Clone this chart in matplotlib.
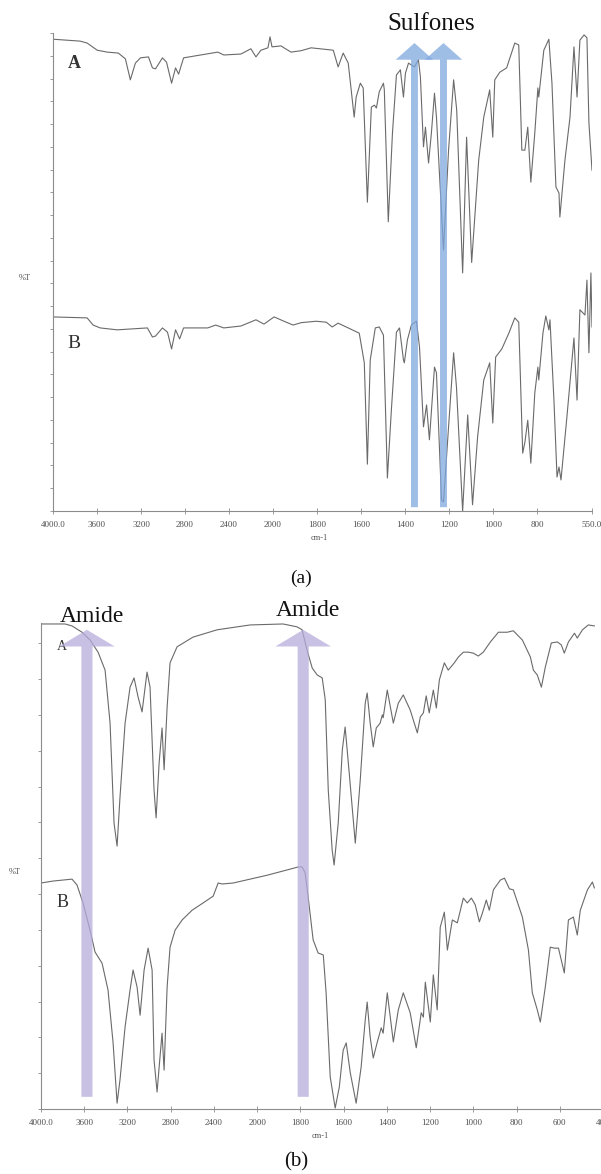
import numpy as np
import matplotlib.pyplot as plt

# ===============================
# DATA
# ===============================
# panel (a): wavenumber (cm-1) / %T, trace A (top) and B (bottom)
wn_a_A = [4000, 3753, 3690, 3598, 3507, 3406, 3342, 3297, 3251, 3205,
          3132, 3096, 3068, 3005, 2968, 2922, 2886, 2858, 2813, 2658,
          2502, 2447, 2292, 2201, 2155, 2110, 2046, 2027, 2009, 1964,
          1918, 1872, 1827, 1726, 1704, 1681, 1658, 1631, 1622, 1603,
          1590, 1571, 1553, 1539, 1530, 1517, 1498, 1494, 1476, 1457,
          1439, 1421, 1407, 1398, 1384, 1357, 1339, 1330, 1316, 1307,
          1293, 1280, 1266, 1257, 1225, 1202, 1179, 1165, 1138, 1120,
          1097, 1065, 1042, 1015, 1001, 992, 969, 938, 901, 883,
          869, 855, 842, 828, 810, 796, 792, 769, 746, 732,
          714, 700, 696, 673, 650, 632, 618, 605, 586, 573,
          564, 550]
T_a_A = [98.7, 98.3, 97.9, 96.4, 96.0, 95.8, 94.6, 90.2, 93.7, 94.8,
         95.0, 92.7, 92.5, 94.8, 93.9, 89.5, 92.7, 91.4, 94.8, 95.4,
         96.0, 95.4, 95.6, 96.7, 95.0, 96.4, 96.9, 99.2, 97.1, 97.3,
         96.0, 96.3, 96.9, 96.4, 92.9, 95.8, 93.7, 82.4, 86.6, 89.5,
         88.5, 64.6, 84.5, 84.9, 84.3, 87.7, 89.5, 88.1, 60.5, 79.1,
         91.2, 92.3, 86.6, 91.6, 93.7, 92.9, 94.4, 90.8, 76.2, 80.3,
         72.8, 79.1, 87.4, 82.4, 54.6, 75.5, 90.2, 83.9, 49.8, 78.2,
         52.0, 73.4, 82.4, 88.1, 78.2, 90.2, 91.8, 92.7, 97.9, 97.5,
         75.5, 75.5, 80.3, 68.8, 79.1, 88.5, 86.6, 96.4, 98.7, 89.5,
         67.8, 66.5, 61.5, 73.4, 82.4, 97.1, 86.6, 98.5, 99.6, 99.0,
         81.2, 71.3]

wn_a_B = [4000, 3690, 3635, 3571, 3416, 3142, 3096, 3068, 3005, 2959,
          2922, 2886, 2849, 2813, 2594, 2521, 2447, 2292, 2155, 2082,
          1995, 1950, 1909, 1872, 1804, 1758, 1731, 1704, 1658, 1608,
          1585, 1571, 1558, 1535, 1517, 1498, 1480, 1462, 1439, 1425,
          1407, 1403, 1389, 1371, 1348, 1334, 1316, 1302, 1289, 1266,
          1257, 1234, 1225, 1202, 1179, 1166, 1138, 1115, 1093, 1070,
          1042, 1015, 1001, 988, 960, 928, 901, 883, 865, 855,
          842, 828, 810, 796, 792, 773, 760, 746, 741, 723,
          709, 700, 691, 664, 632, 618, 605, 582, 573, 564,
          555, 550]
T_a_B = [40.6, 40.4, 38.9, 38.3, 37.9, 38.3, 36.4, 36.6, 38.3, 37.4,
         33.9, 37.9, 36.0, 38.3, 38.3, 38.9, 38.3, 38.7, 40.0, 39.1,
         40.6, 39.7, 38.9, 39.4, 39.7, 39.5, 38.5, 39.3, 38.3, 37.2,
         31.0, 9.8, 31.6, 38.3, 38.5, 36.8, 6.9, 21.1, 37.4, 38.3,
         31.6, 31.0, 35.8, 38.9, 39.7, 34.3, 17.6, 22.2, 14.9, 30.1,
         28.9, 2.3, 1.9, 17.6, 33.1, 25.9, 0.0, 20.1, 1.3, 15.5,
         27.4, 31.0, 18.4, 32.2, 33.9, 37.2, 40.4, 39.5, 12.1, 14.4,
         19.0, 10.0, 24.7, 30.1, 27.4, 37.2, 40.8, 37.9, 40.0, 23.2,
         7.1, 9.2, 6.5, 19.7, 36.2, 23.2, 42.1, 41.0, 48.3, 33.1,
         49.8, 38.5]

# panel (b)
wn_b_A = [4000, 3778, 3713, 3620, 3546, 3472, 3407, 3361, 3324, 3296,
          3269, 3222, 3176, 3139, 3102, 3065, 3019, 2991, 2954, 2935,
          2907, 2880, 2861, 2833, 2806, 2741, 2593, 2370, 2065, 1880,
          1815, 1792, 1769, 1745, 1722, 1699, 1685, 1671, 1653, 1644,
          1625, 1606, 1593, 1574, 1546, 1523, 1500, 1491, 1477, 1463,
          1449, 1431, 1421, 1417, 1398, 1370, 1347, 1324, 1292, 1259,
          1245, 1231, 1218, 1204, 1185, 1171, 1157, 1134, 1116, 1088,
          1069, 1046, 1023, 1000, 977, 954, 921, 884, 843, 815,
          773, 736, 722, 704, 685, 667, 639, 611, 593, 579,
          560, 532, 519, 495, 468, 440]
T_b_A = [99.8, 99.8, 99.4, 98.1, 96.5, 94.0, 90.3, 79.4, 58.8, 54.1,
         64.2, 79.4, 86.8, 88.7, 84.8, 81.7, 89.9, 86.8, 65.6, 59.9,
         71.2, 78.4, 69.8, 82.7, 91.8, 95.1, 97.1, 98.6, 99.6, 99.8,
         99.2, 98.6, 94.4, 90.7, 89.3, 88.7, 84.2, 65.6, 53.3, 50.2,
         58.8, 73.9, 78.6, 69.1, 54.7, 67.7, 83.5, 85.6, 79.4, 74.5,
         78.4, 79.4, 81.1, 80.5, 86.2, 79.4, 83.5, 85.2, 82.1, 77.4,
         80.7, 81.5, 85.0, 81.5, 86.2, 82.5, 88.3, 91.8, 90.3, 91.8,
         93.0, 94.0, 94.0, 93.8, 93.2, 94.0, 96.1, 98.1, 98.1, 98.4,
         96.5, 93.0, 90.3, 89.3, 86.8, 90.9, 95.9, 96.1, 95.5, 93.8,
         96.1, 97.9, 96.9, 98.6, 99.6, 99.4]

wn_b_B = [4000, 3889, 3713, 3667, 3611, 3546, 3500, 3435, 3380, 3333,
          3296, 3269, 3222, 3176, 3148, 3111, 3083, 3046, 3009, 2972,
          2954, 2926, 2907, 2880, 2861, 2833, 2806, 2759, 2694, 2602,
          2500, 2407, 2361, 2324, 2222, 1954, 1810, 1792, 1778, 1764,
          1741, 1718, 1694, 1681, 1662, 1639, 1620, 1602, 1588, 1569,
          1542, 1519, 1500, 1491, 1477, 1463, 1444, 1426, 1417, 1398,
          1370, 1347, 1324, 1292, 1264, 1241, 1231, 1222, 1199, 1185,
          1167, 1153, 1134, 1120, 1097, 1074, 1046, 1028, 1009, 991,
          972, 958, 940, 926, 907, 875, 856, 833, 815, 773,
          745, 727, 704, 690, 667, 644, 625, 606, 579, 560,
          537, 519, 505, 472, 449, 440]
T_b_B = [46.5, 46.9, 47.3, 46.1, 42.4, 36.8, 32.3, 30.0, 24.5, 13.6,
         1.2, 6.0, 16.9, 24.5, 28.6, 25.1, 19.3, 28.6, 33.1, 28.6,
         10.1, 3.5, 8.6, 15.6, 8.0, 25.1, 33.3, 36.8, 38.9, 40.9,
         42.4, 43.8, 46.5, 46.3, 46.5, 48.1, 49.8, 49.8, 48.6, 43.6,
         34.8, 32.1, 31.7, 23.9, 6.6, 0.2, 4.5, 12.1, 13.6, 7.4,
         1.2, 8.6, 18.3, 22.0, 14.8, 10.5, 13.8, 16.7, 15.6, 23.9,
         13.8, 20.4, 23.9, 19.8, 12.6, 19.8, 18.9, 26.1, 17.9, 27.6,
         20.4, 37.4, 40.5, 32.7, 38.9, 38.3, 43.4, 42.4, 43.4, 42.0,
         38.5, 40.3, 43.0, 40.9, 45.1, 47.1, 47.5, 45.3, 45.1, 39.5,
         32.7, 23.9, 20.4, 17.9, 25.1, 33.3, 33.1, 33.1, 28.0, 38.9,
         39.5, 35.8, 40.9, 45.1, 46.7, 45.5]

# x ticks
ticks_a = [4000, 3600, 3200, 2800, 2400, 2000, 1800, 1600, 1400, 1200, 1000, 800, 550]
labels_a = ["4000.0", "3600", "3200", "2800", "2400", "2000", "1800", "1600",
            "1400", "1200", "1000", "800", "550.0"]
ticks_b = [4000, 3600, 3200, 2800, 2400, 2000, 1800, 1600, 1400, 1200, 1000, 800, 600, 400]
labels_b = ["4000.0", "3600", "3200", "2800", "2400", "2000", "1800", "1600",
            "1400", "1200", "1000", "800", "600", "400"]

# marker arrows (wavenumber)
sulfone_wn = [1357, 1225]
amide_wn = [3575, 1787]

# ===============================
# STYLE
# ===============================
SERIF = "Liberation Serif"
LINE = "#6a6a6a"
AXIS = "#8c8c8c"
TICKTXT = "#505050"


def fwd(x):
    x = np.asarray(x, dtype=float)
    return np.where(x > 2000, 2000 + (x - 2000) / 2.0, x)


def inv(x):
    x = np.asarray(x, dtype=float)
    return np.where(x > 2000, 2000 + (x - 2000) * 2.0, x)


def style_axes(ax, xmax, xmin, ticks, labels, yticks):
    ax.set_xscale("function", functions=(fwd, inv))
    ax.set_xlim(xmax, xmin)
    ax.set_ylim(0, 100)
    for s in ["top", "right"]:
        ax.spines[s].set_visible(False)
    for s in ["left", "bottom"]:
        ax.spines[s].set_color(AXIS)
        ax.spines[s].set_linewidth(0.8)
    ax.set_xticks(ticks)
    ax.set_xticklabels(labels)
    ax.xaxis.set_minor_locator(plt.NullLocator())
    ax.set_yticks(yticks)
    ax.set_yticklabels([])
    ax.tick_params(axis="x", direction="inout", length=4, width=0.6,
                   color=AXIS, labelsize=6.5, labelcolor=TICKTXT, pad=5)
    ax.tick_params(axis="y", direction="out", length=2.5, width=0.6, color=AXIS)
    for t in ax.get_xticklabels():
        t.set_fontfamily(SERIF)
    ax.patch.set_alpha(0)


fig = plt.figure(figsize=(6.01, 11.74), dpi=100)

# ===============================
# PANEL (a)
# ===============================
ax_a = fig.add_axes([53 / 601, 1 - 511 / 1174, 539 / 601, 478 / 1174])
style_axes(ax_a, 4000, 550, ticks_a, labels_a, np.linspace(0, 100, 22))
ax_a.plot(wn_a_A, T_a_A, color=LINE, lw=0.8)
ax_a.plot(wn_a_B, T_a_B, color=LINE, lw=0.8)
ax_a.text(0.028, 0.937, "A", transform=ax_a.transAxes, fontsize=13,
          family=SERIF, fontweight="bold", color="#333333", va="center")
ax_a.text(0.026, 0.351, "B", transform=ax_a.transAxes, fontsize=14,
          family=SERIF, color="#333333", va="center")

for w in sulfone_wn:
    ax_a.annotate("", xy=(w, 97.9), xytext=(w, 0.8), xycoords="data",
                  arrowprops=dict(arrowstyle="simple,head_length=1.2,head_width=2.7,tail_width=0.5",
                                  mutation_scale=10, shrinkA=0, shrinkB=0,
                                  fc="#7fa8de", ec="none", alpha=0.75))

# ===============================
# PANEL (b)
# ===============================
ax_b = fig.add_axes([41 / 601, 1 - 1109 / 1174, 562 / 601, 486 / 1174])
style_axes(ax_b, 4000, 400, ticks_b, labels_b, np.arange(14) * 7.37)
ax_b.plot(wn_b_A, T_b_A, color=LINE, lw=0.8)
ax_b.plot(wn_b_B, T_b_B, color=LINE, lw=0.8)
ax_b.text(0.028, 0.951, "A", transform=ax_b.transAxes, fontsize=10,
          family=SERIF, color="#333333", va="center")
ax_b.text(0.028, 0.424, "B", transform=ax_b.transAxes, fontsize=13,
          family=SERIF, color="#333333", va="center")

for w in amide_wn:
    ax_b.annotate("", xy=(w, 98.6), xytext=(w, 2.5), xycoords="data",
                  arrowprops=dict(arrowstyle="simple,head_length=1.2,head_width=4.0,tail_width=0.8",
                                  mutation_scale=10, shrinkA=0, shrinkB=0,
                                  fc="#b7acdc", ec="none", alpha=0.75))

# ===============================
# FIGURE TEXTS
# ===============================
def ftext(x, y, s, **kw):
    fig.text(x / 601, 1 - y / 1174, s, ha="center", va="center", family=SERIF, **kw)


ftext(431, 24, "Sulfones", fontsize=18, color="#111111")
ftext(92, 617, "Amide", fontsize=17, color="#111111")
ftext(308, 611, "Amide", fontsize=17, color="#111111")
ftext(25, 278, "%T", fontsize=6, color=TICKTXT)
ftext(15, 872, "%T", fontsize=6, color=TICKTXT)
ftext(319, 538, "cm-1", fontsize=6, color=TICKTXT)
ftext(320, 1136, "cm-1", fontsize=6, color=TICKTXT)
ftext(301, 578, "(a)", fontsize=14, color="#111111")
ftext(296, 1162, "(b)", fontsize=15, color="#111111")

fig.savefig("out.png", dpi=100)
